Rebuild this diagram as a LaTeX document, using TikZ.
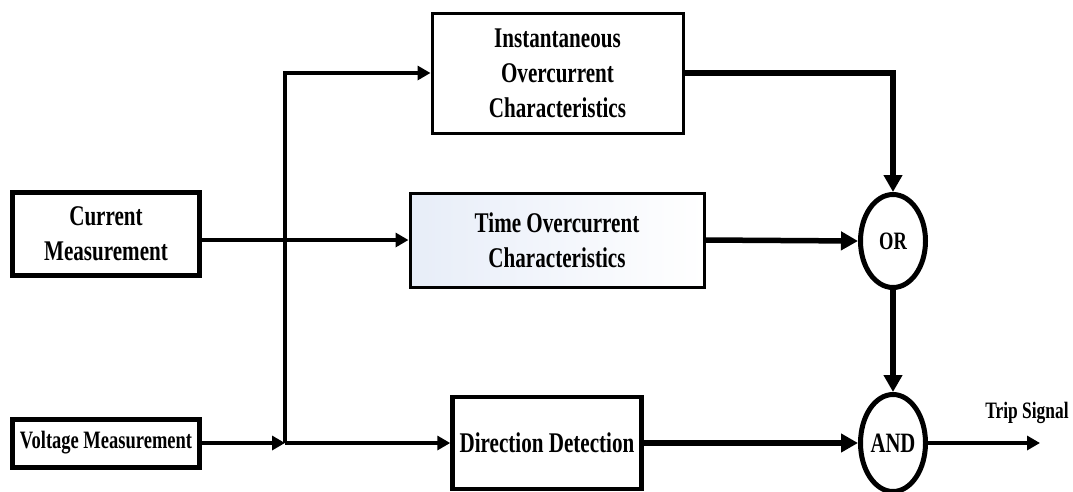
\documentclass[tikz,border=0pt]{standalone}
\usepackage{fontspec}
\setmainfont[FakeStretch=0.74]{Liberation Serif}
\usetikzlibrary{arrows.meta,shapes.geometric}

\definecolor{boxshade}{RGB}{231,237,248}

\tikzset{
  txt/.style={font=\fontsize{28.5}{35}\selectfont\bfseries, align=center, inner sep=0pt},
  block/.style={txt, draw=black, rectangle},
  gate/.style={draw=black, ellipse, line width=5pt, inner sep=0pt},
  thinflow/.style={line width=3.3pt, -{Triangle[length=13pt,width=14pt]}},
  thickflow/.style={line width=5.5pt, -{Triangle[length=17pt,width=18pt]}},
}

\begin{document}
\begin{tikzpicture}[x=1pt, y=-1pt]
  \useasboundingbox (0,0) rectangle (1073,491);

  % input blocks
  \node[block, line width=5pt, minimum width=187pt, minimum height=83pt]
    (cur) at (106,234) {Current\\Measurement};
  \node[block, line width=5pt, minimum width=187pt, minimum height=48pt,
        font=\fontsize{25}{30}\selectfont\bfseries]
    (volt) at (106,443) {Voltage Measurement};

  % characteristic blocks
  \node[block, line width=3pt, minimum width=251pt, minimum height=120pt]
    (inst) at (557.5,73) {Instantaneous\\Overcurrent\\Characteristics};
  \node[block, line width=3pt, minimum width=294pt, minimum height=94pt,
        left color=boxshade, right color=white]
    (time) at (557,240) {Time Overcurrent\\Characteristics};
  \node[block, line width=4.5pt, minimum width=189pt, minimum height=92pt]
    (dir) at (547,443) {Direction Detection};

  % logic gates
  \node[gate, minimum width=65pt, minimum height=93pt,
        font=\fontsize{25}{30}\selectfont\bfseries]
    (or) at (893,241) {OR};
  \node[gate, minimum width=65pt, minimum height=97pt,
        font=\fontsize{28}{34}\selectfont\bfseries]
    (and) at (893,443) {AND};

  % branch point of the voltage signal and trip output end
  \coordinate (J) at (285,443);
  \coordinate (trip) at (1040,443);

  % thin signal lines
  \draw[thinflow] (cur.east |- time.west) -- (time.west);
  \draw[thinflow] (volt.east) -- (J);
  \draw[thinflow] (J) -- (dir.west);
  \draw[thinflow] (J) |- (inst.west);
  \draw[thinflow] (and.east) -- (trip);

  % thick logic lines
  \draw[thickflow] (inst.east) -| (or.north);
  \draw[thickflow] (time.east) -- (or.west);
  \draw[thickflow] (or.south) -- (and.north);
  \draw[thickflow] (dir.east) -- (and.west);

  % output label
  \node[txt, font=\fontsize{23.5}{28}\selectfont\bfseries, anchor=base]
    (triplabel) at (1027,418) {Trip Signal};
\end{tikzpicture}
\end{document}
